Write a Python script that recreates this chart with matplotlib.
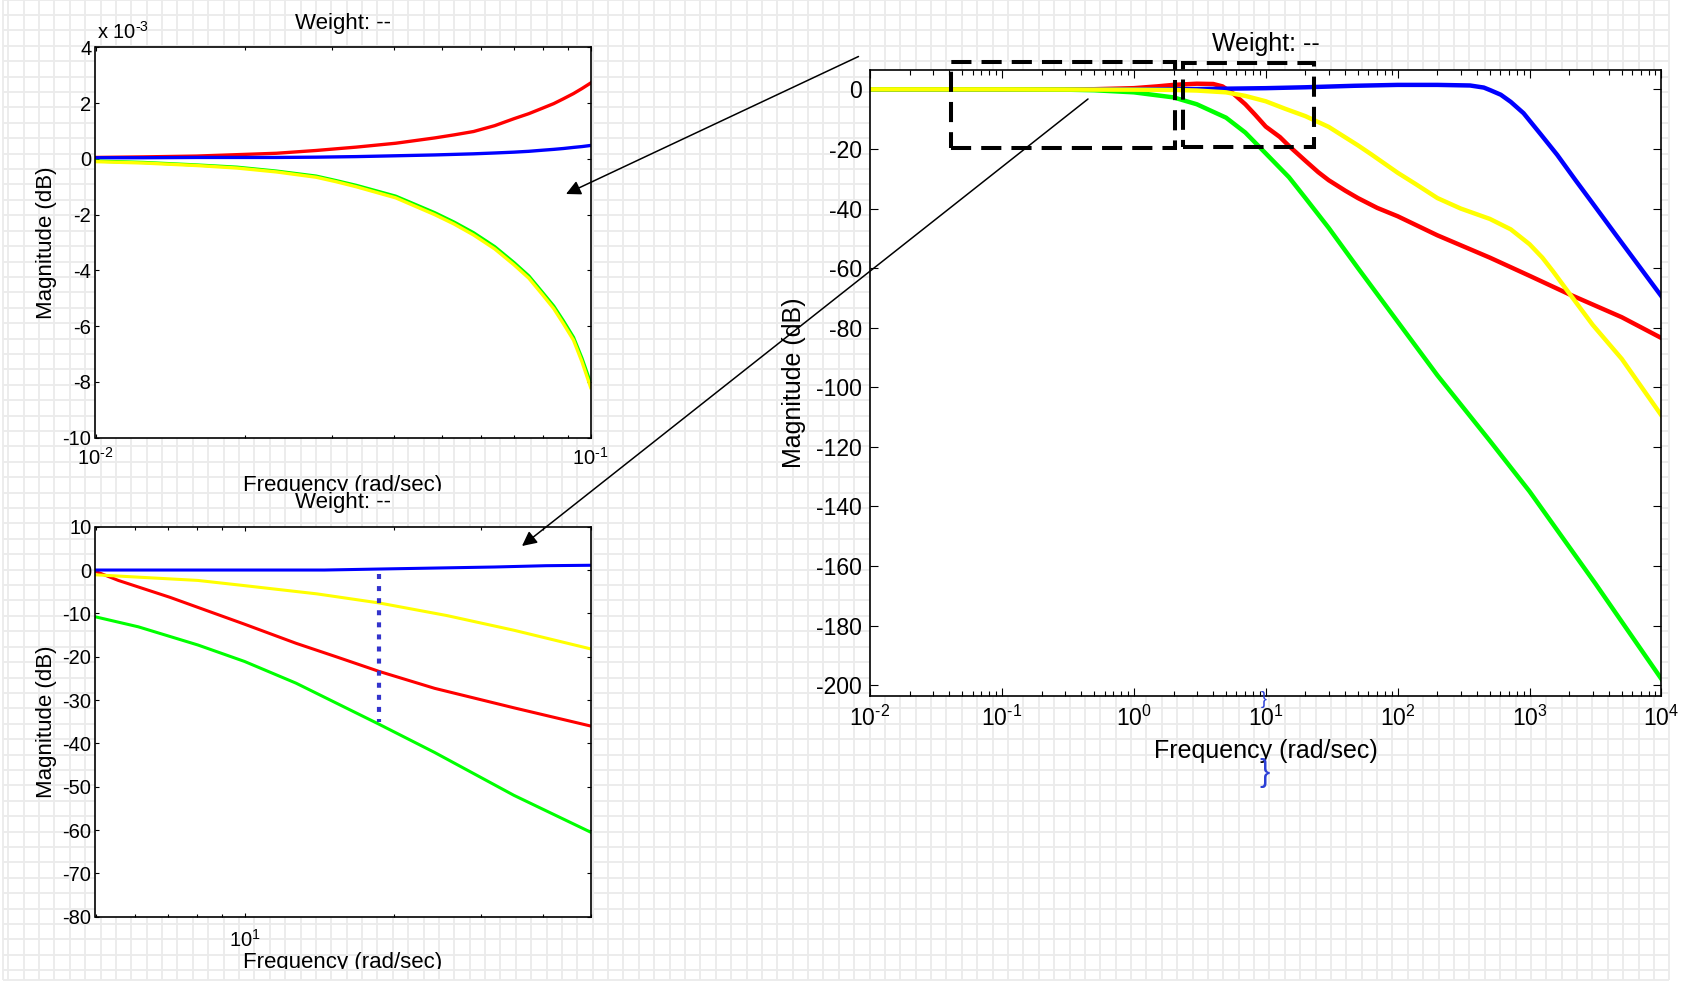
import numpy as np
import matplotlib
matplotlib.use("Agg")
import matplotlib.pyplot as plt
from matplotlib.collections import LineCollection
from matplotlib.patches import Rectangle, FancyArrowPatch
from matplotlib.transforms import Bbox, TransformedBbox
from matplotlib.ticker import LogLocator, NullFormatter, FixedLocator, FuncFormatter

# ---------------- data ----------------
# main Bode magnitude plot (rad/sec, dB)
main_blue_f = [0.01, 0.1, 1, 3, 10, 20, 47, 100, 200, 354, 450, 505, 605, 720, 900,
               1210, 1620, 2230, 3000, 4500, 10000]
main_blue_db = [0, 0, 0, 0.1, 0.4, 0.7, 1.2, 1.5, 1.5, 1.3, 0.6, -0.3, -1.8, -4.2, -8,
                -15, -22, -30.5, -38.2, -48.8, -69.5]

main_red_f = [0.01, 0.1, 0.5, 1, 1.5, 2, 3, 4, 4.7, 5.7, 7, 8.3, 10, 12.8, 15, 20,
              25, 30, 40, 50, 70, 100, 200, 500, 1000, 2000, 5000, 10000]
main_red_db = [0, 0.003, 0.05, 0.4, 1.0, 1.5, 1.9, 1.8, 1.0, -1.5, -5, -8.5, -12.5,
               -16, -19, -24, -27.8, -30.5, -34, -36.5, -39.8, -42.6, -49, -56.5,
               -62.6, -68.8, -76.5, -83.5]

main_yellow_f = [0.01, 0.1, 1, 2, 3, 5, 7, 10, 14, 20, 30, 50, 63, 100, 137, 200,
                 300, 500, 720, 1000, 1250, 1500, 2000, 3000, 5000, 10000]
main_yellow_db = [0, -0.008, -0.1, -0.2, -0.4, -1, -2.2, -4, -6.5, -9, -12.6, -18.8,
                  -21.8, -28, -31.8, -36.5, -40, -43.5, -47, -52, -56.5, -61, -68.5,
                  -79, -90.5, -109.5]

main_green_f = [0.01, 0.1, 0.3, 0.5, 1, 1.5, 2, 3, 5, 7, 10, 15, 20, 30, 50, 100,
                 200, 500, 1000, 3162, 10000]
main_green_db = [0, -0.008, -0.1, -0.3, -1, -2, -2.7, -5, -9.5, -14.5, -21.5, -29.5,
                 -36.5, -46.5, -60, -78, -96, -118, -135, -166, -198]

# zoom 1: 0.01 .. 0.1 rad/sec (values in 1e-3 dB)
tl_f = [0.01, 0.0125, 0.016, 0.0193, 0.0232, 0.0279, 0.0306, 0.0336, 0.0404,
        0.0484, 0.053, 0.058, 0.064, 0.07, 0.075, 0.08, 0.0842, 0.088, 0.0923,
        0.096, 0.1]
tl_red = [0.05, 0.07, 0.1, 0.15, 0.2, 0.3, 0.36, 0.42, 0.56, 0.75, 0.86, 0.98,
          1.19, 1.44, 1.62, 1.82, 1.98, 2.15, 2.34, 2.52, 2.72]
tl_blue = [0.04, 0.04, 0.05, 0.05, 0.05, 0.06, 0.07, 0.08, 0.11, 0.14, 0.16, 0.18,
           0.21, 0.24, 0.27, 0.31, 0.34, 0.37, 0.41, 0.44, 0.48]
tl_green = [-0.08, -0.13, -0.22, -0.3, -0.44, -0.62, -0.78, -0.95, -1.34, -1.93,
            -2.27, -2.65, -3.15, -3.72, -4.2, -4.8, -5.28, -5.8, -6.4, -7.15, -8.05]
tl_yellow = [-0.1, -0.15, -0.24, -0.33, -0.47, -0.66, -0.82, -1.0, -1.4, -2.0,
             -2.34, -2.73, -3.23, -3.8, -4.28, -4.88, -5.37, -5.9, -6.5, -7.27, -8.2]

# zoom 2: 5 .. 50 rad/sec (dB)
bl_blue_f = [5, 14.5, 20.2, 32, 40.6, 50]
bl_blue_db = [0, 0, 0.3, 0.7, 1.0, 1.1]
bl_yellow_f = [5, 8.05, 10, 14, 18.7, 25.6, 35, 50]
bl_yellow_db = [-1.1, -2.4, -3.6, -5.5, -7.6, -10.5, -13.9, -18.2]
bl_red_f = [5, 5.56, 7.07, 10, 12.7, 15.3, 18.7, 24.2, 35, 50]
bl_red_db = [-0.3, -2.4, -6.3, -12.5, -16.9, -20, -23.4, -27.3, -31.8, -36]
bl_green_f = [5, 6.1, 8.05, 10, 12.7, 18.7, 24.2, 35, 50]
bl_green_db = [-10.8, -13.1, -17.3, -21.1, -26.1, -35.6, -42.1, -52, -60.5]
marker_f = 18.7
marker_db = [-1, -35]

main_yticks = list(range(-200, 1, 20))
tl_yticks = list(range(-10, 5, 2))
bl_yticks = list(range(-80, 11, 10))

title_text = "Weight: --"
xlabel_text = "Frequency (rad/sec)"
ylabel_text = "Magnitude (dB)"

# ---------------- style ----------------
plt.rcParams['font.family'] = ['Liberation Sans', 'DejaVu Sans']
plt.rcParams['mathtext.fontset'] = 'custom'
plt.rcParams['mathtext.rm'] = 'Liberation Sans'
plt.rcParams['mathtext.it'] = 'Liberation Sans:italic'
plt.rcParams['mathtext.bf'] = 'Liberation Sans:bold'
plt.rcParams['mathtext.default'] = 'regular'
plt.rcParams['axes.unicode_minus'] = False

W, H = 1683, 985
fig = plt.figure(figsize=(W / 100, H / 100), dpi=100, facecolor='white')


def fx(x):
    return x / W


def fy(y):
    return 1 - y / H


def pow_label(v, pos):
    e = int(round(np.log10(v)))
    return r'$\mathdefault{10^{\text{%d}}}$' % e


# graph-paper background
segs = []
for k in range(0, 109):
    x = 8.3 + 15.38 * k
    segs.append([(fx(x), fy(0)), (fx(x), fy(980))])
segs.append([(fx(3), fy(0)), (fx(3), fy(980))])
for k in range(-1, 63):
    y = 15 + 15.407 * k
    segs.append([(fx(3), fy(y)), (fx(1669.3), fy(y))])
segs.append([(fx(3), fy(980)), (fx(1669.3), fy(980))])
grid = LineCollection(segs, colors='#ebebeb', linewidths=1.3,
                      transform=fig.transFigure, zorder=0)
fig.add_artist(grid)

ax_tl = fig.add_axes([fx(95.5), fy(437.7), 495.2 / W, 390.4 / H])
ax_bl = fig.add_axes([fx(95.5), fy(916.7), 495.2 / W, 390.0 / H])
ax_m = fig.add_axes([fx(870), fy(695.5), 791.5 / W, 625.5 / H])

for ax in (ax_tl, ax_bl, ax_m):
    ax.set_facecolor('white')
    ax.set_xscale('log')
    for s in ax.spines.values():
        s.set_linewidth(1.2)
        s.set_color('black')
    ax.tick_params(which='both', direction='in', top=True, right=True,
                   width=0.8, color='black')
    ax.xaxis.set_major_locator(LogLocator(base=10, numticks=20))
    ax.xaxis.set_minor_locator(LogLocator(base=10, subs=np.arange(2, 10), numticks=20))
    ax.xaxis.set_major_formatter(FuncFormatter(pow_label))
    ax.xaxis.set_minor_formatter(NullFormatter())

# ---- main plot ----
ax_m.plot(main_red_f, main_red_db, color='#ff0000', lw=3.2)
ax_m.plot(main_blue_f, main_blue_db, color='#0000ff', lw=3.2)
ax_m.plot(main_green_f, main_green_db, color='#00ff00', lw=3.2)
ax_m.plot(main_yellow_f, main_yellow_db, color='#ffff00', lw=3.2)
ax_m.set_xlim(1e-2, 1e4)
ax_m.set_ylim(-203.5, 6.5)
ax_m.yaxis.set_major_locator(FixedLocator(main_yticks))
ax_m.tick_params(which='major', length=5.5, labelsize=16.5)
ax_m.tick_params(which='minor', length=3.5)
ax_m.tick_params(axis='x', which='major', pad=7)
ax_m.tick_params(axis='y', which='major', pad=5.8)

# ---- zoom top-left ----
ax_tl.plot(tl_f, tl_red, color='#ff0000', lw=2.4)
ax_tl.plot(tl_f, tl_blue, color='#0000ff', lw=2.4)
ax_tl.plot(tl_f, tl_green, color='#00ff00', lw=2.4)
ax_tl.plot(tl_f, tl_yellow, color='#ffff00', lw=2.4)
ax_tl.set_xlim(0.01, 0.1)
ax_tl.set_ylim(-10, 4)
ax_tl.yaxis.set_major_locator(FixedLocator(tl_yticks))
ax_tl.tick_params(which='major', length=3, labelsize=14.5)
ax_tl.tick_params(which='minor', length=2)
ax_tl.tick_params(axis='x', which='major', pad=6.5)
ax_tl.tick_params(axis='y', which='major', pad=3)

# ---- zoom bottom-left ----
ax_bl.plot(bl_red_f, bl_red_db, color='#ff0000', lw=2.2)
ax_bl.plot(bl_green_f, bl_green_db, color='#00ff00', lw=2.2)
ax_bl.plot(bl_yellow_f, bl_yellow_db, color='#ffff00', lw=2.2)
ax_bl.plot(bl_blue_f, bl_blue_db, color='#0000ff', lw=2.2)
ax_bl.plot([marker_f, marker_f], marker_db, color='#3333cc', lw=3.0,
           linestyle=(0, (1.2, 1.7)))
ax_bl.set_xlim(5, 50)
ax_bl.set_ylim(-80, 10)
ax_bl.yaxis.set_major_locator(FixedLocator(bl_yticks))
ax_bl.tick_params(which='major', length=3, labelsize=14.5)
ax_bl.tick_params(which='minor', length=2)
ax_bl.tick_params(axis='x', which='major', pad=8.5)
ax_bl.tick_params(axis='y', which='major', pad=3)

# ---------------- texts ----------------
fig.text(fx(343), fy(29.3), title_text, ha='center', va='baseline', fontsize=16)
fig.text(fx(343), fy(508.3), title_text, ha='center', va='baseline', fontsize=16)
fig.text(fx(1265.5), fy(50.9), title_text, ha='center', va='baseline', fontsize=18)

t1 = fig.text(fx(343), fy(490.7), xlabel_text, ha='center', va='baseline', fontsize=16)
t1.set_clip_box(TransformedBbox(Bbox([[0, fy(491.2)], [1, 1]]), fig.transFigure))
t1.set_clip_on(True)
t2 = fig.text(fx(343), fy(968.3), xlabel_text, ha='center', va='baseline', fontsize=16)
t2.set_clip_box(TransformedBbox(Bbox([[0, fy(968.8)], [1, 1]]), fig.transFigure))
t2.set_clip_on(True)
fig.text(fx(1265.5), fy(758), xlabel_text, ha='center', va='baseline', fontsize=18)

fig.text(fx(46.5), fy(243), ylabel_text, rotation=90, ha='center', va='center', fontsize=16)
fig.text(fx(46.5), fy(722), ylabel_text, rotation=90, ha='center', va='center', fontsize=16)
fig.text(fx(794.5), fy(382.5), ylabel_text, rotation=90, ha='center', va='center', fontsize=18)

fig.text(fx(96.7), fy(39.3), r'x 10$^{\text{-3}}$', ha='left', va='baseline', fontsize=14.5)

# stray blue brace glyphs
fig.text(fx(1264), fy(700), '}', color='#2b3fd6', ha='center', va='center', fontsize=13)
fig.text(fx(1265), fy(773), '}', color='#2b3fd6', ha='center', va='center', fontsize=22)

# ---------------- annotations ----------------
for (x0, y0, x1, y1) in [(951.5, 61.7, 1175, 147.5), (1182.7, 63, 1314, 146.5)]:
    r = Rectangle((fx(x0), fy(y1)), (x1 - x0) / W, (y1 - y0) / H, fill=False,
                  edgecolor='black', lw=2.9, linestyle=(0, (5, 2.5)),
                  transform=fig.transFigure, zorder=5)
    fig.add_artist(r)

for (xa, ya, xb, yb) in [(858.5, 56.5, 566, 194), (1088, 99, 522, 546)]:
    a = FancyArrowPatch((fx(xa), fy(ya)), (fx(xb), fy(yb)), arrowstyle='-|>',
                        mutation_scale=22, lw=1.1, color='black',
                        shrinkA=0, shrinkB=0, transform=fig.transFigure, zorder=6)
    fig.add_artist(a)

fig.savefig('out.png', dpi=100, facecolor='white')
